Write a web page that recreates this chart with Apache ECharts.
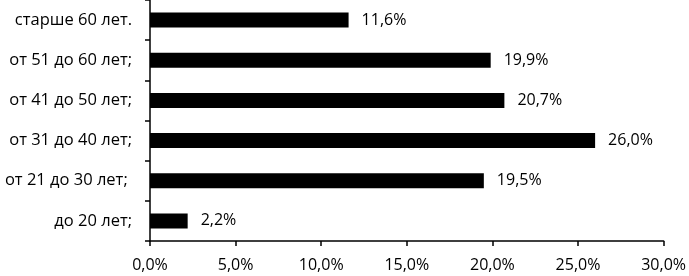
<!DOCTYPE html>
<html>
<head>
<meta charset="utf-8">
<script src="https://cdn.jsdelivr.net/npm/echarts@6/dist/echarts.min.js"></script>
<style>
  html, body { margin: 0; padding: 0; background: #fff; }
  #chart { width: 689px; height: 276px; }
</style>
</head>
<body>
<div id="chart"></div>
<script>
// возрастные группы снизу вверх
var ageGroups = ['до 20 лет;', 'от 21 до 30 лет; ', 'от 31 до 40 лет;', 'от 41 до 50 лет;', 'от 51 до 60 лет;', 'старше 60 лет.'];
var shares = [2.2, 19.5, 26.0, 20.7, 19.9, 11.6];
var axisMin = 0, axisMax = 30, axisStep = 5;

function pct(v) {
  return v.toFixed(1).replace('.', ',') + '%';
}

var chart = echarts.init(document.getElementById('chart'));
chart.setOption({
  animation: false,
  textStyle: { fontFamily: 'Open Sans', color: '#000' },
  grid: { left: 150, right: 22, top: 0, bottom: 35 },
  xAxis: {
    type: 'value',
    min: axisMin,
    max: axisMax,
    interval: axisStep,
    splitLine: { show: false },
    axisLine: { show: true, lineStyle: { color: '#000', width: 1.5 } },
    axisTick: { show: true, length: 5, lineStyle: { color: '#000', width: 1.5 } },
    axisLabel: { color: '#000', fontSize: 16, margin: 16, formatter: pct }
  },
  yAxis: {
    type: 'category',
    data: ageGroups,
    axisLine: { show: true, lineStyle: { color: '#000', width: 1.5 } },
    axisTick: { show: true, length: 5, lineStyle: { color: '#000', width: 1.5 } },
    axisLabel: { color: '#000', fontSize: 16.5, margin: 18 }
  },
  series: [{
    type: 'bar',
    data: shares,
    barWidth: 15,
    itemStyle: { color: '#000' },
    label: {
      show: true,
      position: 'right',
      distance: 13,
      color: '#000',
      fontSize: 16,
      formatter: function (p) { return pct(p.value); }
    }
  }]
});
</script>
</body>
</html>
